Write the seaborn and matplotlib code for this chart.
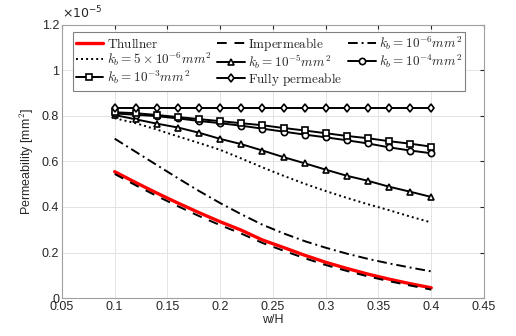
import numpy as np
import pandas as pd
import matplotlib
matplotlib.use('Agg')
import matplotlib.pyplot as plt
import seaborn as sns
from matplotlib.ticker import FuncFormatter, MultipleLocator

# valores (permeabilidade em unidades de 1e-5 mm^2)
w_h = [0.10, 0.12, 0.14, 0.16, 0.18, 0.20, 0.22, 0.24, 0.26, 0.28, 0.30, 0.32, 0.34, 0.36, 0.38, 0.40]

thullner = [0.555, 0.507, 0.461, 0.417, 0.375, 0.335, 0.298, 0.255, 0.222, 0.188, 0.157, 0.130, 0.105, 0.083, 0.063, 0.045]
impermeable = [0.545, 0.495, 0.448, 0.403, 0.360, 0.320, 0.283, 0.242, 0.208, 0.175, 0.145, 0.119, 0.095, 0.074, 0.055, 0.037]
kb_1e6 = [0.700, 0.642, 0.584, 0.526, 0.470, 0.417, 0.368, 0.322, 0.284, 0.250, 0.221, 0.195, 0.172, 0.152, 0.134, 0.117]
kb_5e6 = [0.790, 0.768, 0.740, 0.710, 0.681, 0.651, 0.613, 0.574, 0.537, 0.502, 0.470, 0.440, 0.412, 0.386, 0.358, 0.332]
kb_1e5 = [0.804, 0.785, 0.766, 0.749, 0.726, 0.699, 0.676, 0.648, 0.619, 0.592, 0.564, 0.537, 0.515, 0.489, 0.467, 0.444]
kb_1e4 = [0.811, 0.805, 0.799, 0.789, 0.778, 0.768, 0.757, 0.744, 0.731, 0.718, 0.706, 0.693, 0.679, 0.662, 0.648, 0.636]
kb_1e3 = [0.816, 0.812, 0.804, 0.795, 0.786, 0.777, 0.768, 0.759, 0.747, 0.736, 0.724, 0.712, 0.702, 0.689, 0.678, 0.665]
fully = [0.834] * 16

labels = [r'$\mathrm{Thullner}$', r'$\mathrm{Impermeable}$', r'$k_b = 10^{-6}mm^2$',
          r'$k_b = 5\times10^{-6}mm^2$', r'$k_b = 10^{-5}mm^2$', r'$k_b = 10^{-4}mm^2$',
          r'$k_b = 10^{-3}mm^2$', r'$\mathrm{Fully\ permeable}$']
series = [thullner, impermeable, kb_1e6, kb_5e6, kb_1e5, kb_1e4, kb_1e3, fully]

# estilo de cada curva: (cor, largura, tracejado, marcador)
estilos = [
    ('#ff0000', 2.4, '-', None),
    ('black', 1.4, (0, (5, 4)), None),
    ('black', 1.4, (0, (5, 2, 1, 2)), None),
    ('black', 1.4, (0, (1, 1.6)), None),
    ('black', 1.4, '-', '^'),
    ('black', 1.4, '-', 'o'),
    ('black', 1.4, '-', 's'),
    ('black', 1.4, '-', 'd'),
]

sns.set_style('whitegrid')
plt.rcParams['font.family'] = ['Liberation Sans', 'DejaVu Sans']
plt.rcParams['mathtext.fontset'] = 'cm'

fig = plt.figure(figsize=(5.16, 3.36), dpi=100)
ax = fig.add_axes([0.120, 0.113, 0.818, 0.813])

handles = []
for y, lab, (cor, lw, ls, mk) in zip(series, labels, estilos):
    df = pd.DataFrame({'w/H': w_h, 'k': y})
    sns.lineplot(data=df, x='w/H', y='k', ax=ax, color=cor, linewidth=lw,
                 marker=mk, markersize=4.5, markerfacecolor='white',
                 markeredgecolor=cor, markeredgewidth=1.2, label=lab)
    ax.lines[-1].set_linestyle(ls)
    handles.append(ax.lines[-1])

ax.set_xlim(0.05, 0.45)
ax.set_ylim(0, 1.2)
ax.xaxis.set_major_locator(MultipleLocator(0.05))
ax.yaxis.set_major_locator(MultipleLocator(0.2))
ax.xaxis.set_major_formatter(FuncFormatter(lambda v, p: f'{v:g}'))
ax.yaxis.set_major_formatter(FuncFormatter(lambda v, p: f'{round(v, 2):g}'))
ax.tick_params(direction='in', length=3, labelsize=9, colors='#262626',
               top=True, right=True, pad=2)
ax.grid(True, color='#e3e3e3', linewidth=0.7)
for s in ax.spines.values():
    s.set_color('#a0a0a0')
    s.set_linewidth(0.8)

ax.set_xlabel('w/H', fontsize=9, labelpad=1, color='#262626')
ax.set_ylabel(r'Permeability [mm$^2$]', fontsize=9, labelpad=4, color='#262626')
ax.text(0.0, 1.012, r'$\times10^{-5}$', transform=ax.transAxes, fontsize=9,
        color='#262626', ha='left', va='bottom', math_fontfamily='dejavusans')

# ordem do legend por linhas (como no MATLAB)
ordem = [0, 3, 6, 1, 4, 7, 2, 5]
leg = ax.legend([handles[i] for i in ordem], [labels[i] for i in ordem], ncol=3,
                loc='upper left', bbox_to_anchor=(0.026, 0.975), borderaxespad=0,
                fontsize=9.5, frameon=True, fancybox=False, framealpha=1,
                edgecolor='#808080', handlelength=2.1, handletextpad=0.25,
                columnspacing=0.45, labelspacing=0.0, borderpad=0.2)
leg.get_frame().set_linewidth(0.8)

plt.savefig('out.png', dpi=100)
plt.close()
